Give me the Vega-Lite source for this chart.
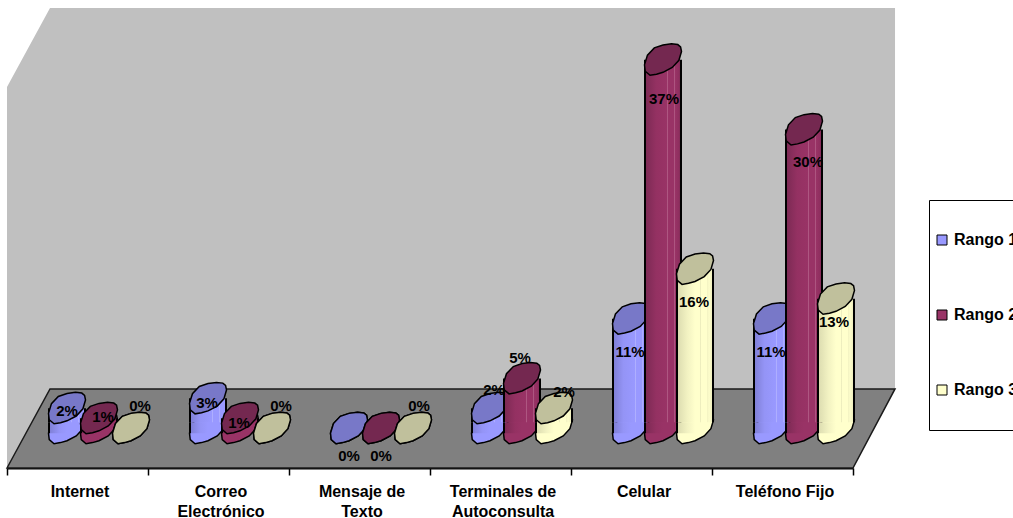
{
  "$schema": "https://vega.github.io/schema/vega-lite/v6.json",
  "width": 846,
  "height": 468,
  "autosize": {"type": "none"},
  "padding": {"left": 7, "top": 0, "right": 160, "bottom": 50},
  "background": "white",
  "config": {"view": {"stroke": null}, "font": "Liberation Sans"},
  "datasets": {
    "shares": [
      {"canal": "Internet", "rango": "Rango 1", "pct": 2},
      {"canal": "Internet", "rango": "Rango 2", "pct": 1},
      {"canal": "Internet", "rango": "Rango 3", "pct": 0},
      {"canal": "Correo Electrónico", "rango": "Rango 1", "pct": 3},
      {"canal": "Correo Electrónico", "rango": "Rango 2", "pct": 1},
      {"canal": "Correo Electrónico", "rango": "Rango 3", "pct": 0},
      {"canal": "Mensaje de Texto", "rango": "Rango 1", "pct": 0},
      {"canal": "Mensaje de Texto", "rango": "Rango 2", "pct": 0},
      {"canal": "Mensaje de Texto", "rango": "Rango 3", "pct": 0},
      {"canal": "Terminales de Autoconsulta", "rango": "Rango 1", "pct": 2},
      {"canal": "Terminales de Autoconsulta", "rango": "Rango 2", "pct": 5},
      {"canal": "Terminales de Autoconsulta", "rango": "Rango 3", "pct": 2},
      {"canal": "Celular", "rango": "Rango 1", "pct": 11},
      {"canal": "Celular", "rango": "Rango 2", "pct": 37},
      {"canal": "Celular", "rango": "Rango 3", "pct": 16},
      {"canal": "Teléfono Fijo", "rango": "Rango 1", "pct": 11},
      {"canal": "Teléfono Fijo", "rango": "Rango 2", "pct": 30},
      {"canal": "Teléfono Fijo", "rango": "Rango 3", "pct": 13}
    ],
    "wall": [
      {"along": 0, "upper": 34.27, "lower": -4},
      {"along": 0.305, "upper": 42.2, "lower": 3.94},
      {"along": 6.298, "upper": 42.2, "lower": 3.94}
    ],
    "floor": [
      {"along": 0, "upper": -4, "lower": -4},
      {"along": 0.305, "upper": 3.94, "lower": -4},
      {"along": 6, "upper": 3.94, "lower": -4},
      {"along": 6.298, "upper": 3.94, "lower": 3.94}
    ]
  },
  "resolve": {"scale": {"x": "independent"}},
  "layer": [
    {
      "data": {"name": "wall"},
      "mark": {"type": "area", "color": "#c0c0c0", "clip": false},
      "encoding": {
        "x": {"field": "along", "type": "quantitative", "axis": null, "scale": {"domain": [0, 6]}},
        "y": {"field": "upper", "type": "quantitative", "axis": null, "scale": {"domain": [-4, 43], "nice": false}, "stack": null},
        "y2": {"field": "lower"}
      }
    },
    {
      "data": {"name": "floor"},
      "mark": {"type": "area", "color": "#808080", "stroke": "#1a1a1a", "strokeWidth": 1.5, "clip": false},
      "encoding": {
        "x": {"field": "along", "type": "quantitative", "axis": null, "scale": {"domain": [0, 6]}},
        "y": {"field": "upper", "type": "quantitative", "axis": null, "scale": {"domain": [-4, 43], "nice": false}, "stack": null},
        "y2": {"field": "lower"}
      }
    },
    {
      "data": {"name": "shares"},
      "transform": [{"calculate": "datum.pct + '%'", "as": "etiqueta"}],
      "encoding": {
        "x": {
          "field": "canal",
          "type": "nominal",
          "sort": null,
          "title": null,
          "scale": {
            "domain": ["Internet", "Correo Electrónico", "Mensaje de Texto", "Terminales de Autoconsulta", "Celular", "Teléfono Fijo"],
            "paddingInner": 0,
            "paddingOuter": 0
          },
          "axis": {
            "orient": "bottom",
            "tickBand": "extent",
            "labelAngle": 0,
            "domainColor": "#000000",
            "domainWidth": 2,
            "tickColor": "#000000",
            "tickWidth": 1.5,
            "tickSize": 7,
            "labelFont": "Liberation Sans",
            "labelFontWeight": "bold",
            "labelFontSize": 16,
            "labelColor": "#000000",
            "labelPadding": 8,
            "labelOffset": 2,
            "labelLineHeight": 20,
            "labelLimit": 200,
            "labelExpr": "length(datum.label) > 14 ? [substring(datum.label, 0, lastindexof(datum.label, ' ')), substring(datum.label, lastindexof(datum.label, ' ') + 1)] : datum.label"
          }
        },
        "xOffset": {
          "field": "rango",
          "type": "nominal",
          "scale": {"domain": ["Rango 1", "Rango 2", "Rango 3"], "range": [44, 140], "paddingInner": 0, "paddingOuter": 0}
        },
        "y": {"field": "pct", "type": "quantitative", "axis": null, "stack": null, "scale": {"domain": [-4, 43], "nice": false}}
      },
      "layer": [
        {
          "transform": [{"filter": "datum.rango === 'Rango 1'"}],
          "layer": [
            {
              "mark": {"type": "point", "filled": true, "shape": "M1,-0.45L0.86,0.03L0.5,0.42L0,0.68L-0.35,0.78L-0.7,0.84L-0.96,0.62L-1,0.27L-0.84,-0.25L-0.47,-0.64L0,-0.8L0.46,-0.86L0.8,-0.82L0.95,-0.7Z", "size": 1369, "stroke": "#000000", "strokeWidth": 1.5, "opacity": 1},
              "encoding": {
                "y": {"datum": 0, "type": "quantitative"},
                "color": {
                  "field": "rango",
                  "type": "nominal",
                  "scale": {"domain": ["Rango 1", "Rango 2", "Rango 3"], "range": ["#9999ff", "#993366", "#ffffcc"]},
                  "legend": {
                    "title": null,
                    "orient": "none",
                    "legendX": 922,
                    "legendY": 200,
                    "fillColor": "#ffffff",
                    "strokeColor": "#000000",
                    "padding": 32,
                    "symbolOffset": -27,
                    "labelOffset": 4,
                    "symbolType": "square",
                    "symbolSize": 100,
                    "symbolStrokeColor": "#000000",
                    "symbolStrokeWidth": 1,
                    "rowPadding": 59,
                    "labelFont": "Liberation Sans",
                    "labelFontWeight": "bold",
                    "labelFontSize": 16,
                    "labelColor": "#000000"
                  }
                }
              }
            },
            {
              "transform": [{"filter": "datum.pct > 0"}],
              "mark": {"type": "bar", "size": 38, "color": {"gradient": "linear", "x1": 0, "x2": 1, "y1": 0, "y2": 0, "stops": [{"offset": 0, "color": "#000000"}, {"offset": 0.04, "color": "#000000"}, {"offset": 0.041, "color": "#7f7fd6"}, {"offset": 0.3, "color": "#9494f6"}, {"offset": 0.5, "color": "#9999ff"}, {"offset": 0.501, "color": "rgba(0,0,0,0)"}, {"offset": 1, "color": "rgba(0,0,0,0)"}]}},
              "encoding": {"y": {"datum": 0.6, "type": "quantitative"}, "y2": {"datum": -0.5}}
            },
            {
              "transform": [{"filter": "datum.pct > 0"}],
              "mark": {"type": "bar", "size": 38, "color": {"gradient": "linear", "x1": 0, "x2": 1, "y1": 0, "y2": 0, "stops": [{"offset": 0, "color": "#000000"}, {"offset": 0.04, "color": "#000000"}, {"offset": 0.041, "color": "#7f7fd6"}, {"offset": 0.3, "color": "#9494f6"}, {"offset": 0.6, "color": "#9999ff"}, {"offset": 0.62, "color": "#b0b0ff"}, {"offset": 0.64, "color": "#9999ff"}, {"offset": 0.78, "color": "#9999ff"}, {"offset": 0.8, "color": "#b0b0ff"}, {"offset": 0.82, "color": "#9999ff"}, {"offset": 0.959, "color": "#9999ff"}, {"offset": 0.96, "color": "#000000"}, {"offset": 1, "color": "#000000"}]}},
              "encoding": {"y2": {"datum": 0.6}}
            },
            {"mark": {"type": "point", "filled": true, "shape": "M1,-0.45L0.86,0.03L0.5,0.42L0,0.68L-0.35,0.78L-0.7,0.84L-0.96,0.62L-1,0.27L-0.84,-0.25L-0.47,-0.64L0,-0.8L0.46,-0.86L0.8,-0.82L0.95,-0.7Z", "size": 1369, "fill": "#7878c8", "stroke": "#000000", "strokeWidth": 1.5, "opacity": 1}}
          ]
        },
        {
          "transform": [{"filter": "datum.rango === 'Rango 2'"}],
          "layer": [
            {
              "mark": {"type": "point", "filled": true, "shape": "M1,-0.45L0.86,0.03L0.5,0.42L0,0.68L-0.35,0.78L-0.7,0.84L-0.96,0.62L-1,0.27L-0.84,-0.25L-0.47,-0.64L0,-0.8L0.46,-0.86L0.8,-0.82L0.95,-0.7Z", "size": 1369, "stroke": "#000000", "strokeWidth": 1.5, "opacity": 1},
              "encoding": {
                "y": {"datum": 0, "type": "quantitative"},
                "color": {"field": "rango", "type": "nominal"}
              }
            },
            {
              "transform": [{"filter": "datum.pct > 0"}],
              "mark": {"type": "bar", "size": 38, "color": {"gradient": "linear", "x1": 0, "x2": 1, "y1": 0, "y2": 0, "stops": [{"offset": 0, "color": "#000000"}, {"offset": 0.04, "color": "#000000"}, {"offset": 0.041, "color": "#7c2a54"}, {"offset": 0.32, "color": "#943162"}, {"offset": 0.5, "color": "#993366"}, {"offset": 0.501, "color": "rgba(0,0,0,0)"}, {"offset": 1, "color": "rgba(0,0,0,0)"}]}},
              "encoding": {"y": {"datum": 0.6, "type": "quantitative"}, "y2": {"datum": -0.5}}
            },
            {
              "transform": [{"filter": "datum.pct > 0"}],
              "mark": {"type": "bar", "size": 38, "color": {"gradient": "linear", "x1": 0, "x2": 1, "y1": 0, "y2": 0, "stops": [{"offset": 0, "color": "#000000"}, {"offset": 0.04, "color": "#000000"}, {"offset": 0.041, "color": "#7c2a54"}, {"offset": 0.32, "color": "#943162"}, {"offset": 0.6, "color": "#993366"}, {"offset": 0.62, "color": "#b05a84"}, {"offset": 0.64, "color": "#993366"}, {"offset": 0.78, "color": "#993366"}, {"offset": 0.8, "color": "#b05a84"}, {"offset": 0.82, "color": "#993366"}, {"offset": 0.92, "color": "#8f2f5f"}, {"offset": 0.959, "color": "#7c2a54"}, {"offset": 0.96, "color": "#000000"}, {"offset": 1, "color": "#000000"}]}},
              "encoding": {"y2": {"datum": 0.6}}
            },
            {"mark": {"type": "point", "filled": true, "shape": "M1,-0.45L0.86,0.03L0.5,0.42L0,0.68L-0.35,0.78L-0.7,0.84L-0.96,0.62L-1,0.27L-0.84,-0.25L-0.47,-0.64L0,-0.8L0.46,-0.86L0.8,-0.82L0.95,-0.7Z", "size": 1369, "fill": "#742850", "stroke": "#000000", "strokeWidth": 1.5, "opacity": 1}}
          ]
        },
        {
          "transform": [{"filter": "datum.rango === 'Rango 3'"}],
          "layer": [
            {
              "mark": {"type": "point", "filled": true, "shape": "M1,-0.45L0.86,0.03L0.5,0.42L0,0.68L-0.35,0.78L-0.7,0.84L-0.96,0.62L-1,0.27L-0.84,-0.25L-0.47,-0.64L0,-0.8L0.46,-0.86L0.8,-0.82L0.95,-0.7Z", "size": 1369, "stroke": "#000000", "strokeWidth": 1.5, "opacity": 1},
              "encoding": {
                "y": {"datum": 0, "type": "quantitative"},
                "color": {"field": "rango", "type": "nominal"}
              }
            },
            {
              "transform": [{"filter": "datum.pct > 0"}],
              "mark": {"type": "bar", "size": 38, "color": {"gradient": "linear", "x1": 0, "x2": 1, "y1": 0, "y2": 0, "stops": [{"offset": 0, "color": "#000000"}, {"offset": 0.04, "color": "#000000"}, {"offset": 0.041, "color": "#dcdcb0"}, {"offset": 0.3, "color": "#f2f2c2"}, {"offset": 0.5, "color": "#ffffcc"}, {"offset": 0.501, "color": "rgba(0,0,0,0)"}, {"offset": 1, "color": "rgba(0,0,0,0)"}]}},
              "encoding": {"y": {"datum": 0.6, "type": "quantitative"}, "y2": {"datum": -0.5}}
            },
            {
              "transform": [{"filter": "datum.pct > 0"}],
              "mark": {"type": "bar", "size": 38, "color": {"gradient": "linear", "x1": 0, "x2": 1, "y1": 0, "y2": 0, "stops": [{"offset": 0, "color": "#000000"}, {"offset": 0.04, "color": "#000000"}, {"offset": 0.041, "color": "#dcdcb0"}, {"offset": 0.3, "color": "#f2f2c2"}, {"offset": 0.5, "color": "#ffffcc"}, {"offset": 0.62, "color": "#ffffcc"}, {"offset": 0.64, "color": "#e8e8ba"}, {"offset": 0.66, "color": "#ffffcc"}, {"offset": 0.82, "color": "#ffffcc"}, {"offset": 0.84, "color": "#e8e8ba"}, {"offset": 0.86, "color": "#ffffcc"}, {"offset": 0.959, "color": "#eeeebe"}, {"offset": 0.96, "color": "#000000"}, {"offset": 1, "color": "#000000"}]}},
              "encoding": {"y2": {"datum": 0.6}}
            },
            {"mark": {"type": "point", "filled": true, "shape": "M1,-0.45L0.86,0.03L0.5,0.42L0,0.68L-0.35,0.78L-0.7,0.84L-0.96,0.62L-1,0.27L-0.84,-0.25L-0.47,-0.64L0,-0.8L0.46,-0.86L0.8,-0.82L0.95,-0.7Z", "size": 1369, "fill": "#c0c09c", "stroke": "#000000", "strokeWidth": 1.5, "opacity": 1}}
          ]
        },
        {
          "transform": [{"filter": "datum.canal === 'Internet' && datum.rango === 'Rango 1'"}],
          "mark": {"type": "text", "fontWeight": "bold", "fontSize": 15, "color": "#000000", "baseline": "middle", "dx": 0, "dy": 3},
          "encoding": {"text": {"field": "etiqueta"}}
        },
        {
          "transform": [{"filter": "datum.canal === 'Correo Electrónico' && datum.rango !== 'Rango 3'"}],
          "mark": {"type": "text", "fontWeight": "bold", "fontSize": 15, "color": "#000000", "baseline": "middle", "dx": -1, "dy": 5},
          "encoding": {"text": {"field": "etiqueta"}}
        },
        {
          "transform": [{"filter": "datum.canal === 'Internet' && datum.rango === 'Rango 2'"}],
          "mark": {"type": "text", "fontWeight": "bold", "fontSize": 15, "color": "#000000", "baseline": "middle", "dx": 4, "dy": -1},
          "encoding": {"text": {"field": "etiqueta"}}
        },
        {
          "transform": [{"filter": "(datum.canal === 'Internet' || datum.canal === 'Correo Electrónico') && datum.rango === 'Rango 3'"}],
          "mark": {"type": "text", "fontWeight": "bold", "fontSize": 15, "color": "#000000", "baseline": "middle", "dx": 9, "dy": -22},
          "encoding": {"text": {"field": "etiqueta"}}
        },
        {
          "transform": [{"filter": "datum.canal === 'Mensaje de Texto' && datum.rango === 'Rango 3'"}],
          "mark": {"type": "text", "fontWeight": "bold", "fontSize": 15, "color": "#000000", "baseline": "middle", "dx": 6, "dy": -22},
          "encoding": {"text": {"field": "etiqueta"}}
        },
        {
          "transform": [{"filter": "datum.canal === 'Mensaje de Texto' && datum.rango !== 'Rango 3'"}],
          "mark": {"type": "text", "fontWeight": "bold", "fontSize": 15, "color": "#000000", "baseline": "middle", "dx": 0, "dy": 28},
          "encoding": {"text": {"field": "etiqueta"}}
        },
        {
          "transform": [{"filter": "datum.canal === 'Terminales de Autoconsulta' && datum.rango === 'Rango 1'"}],
          "mark": {"type": "text", "fontWeight": "bold", "fontSize": 15, "color": "#000000", "baseline": "middle", "dx": 4, "dy": -18},
          "encoding": {"text": {"field": "etiqueta"}}
        },
        {
          "transform": [{"filter": "datum.canal === 'Terminales de Autoconsulta' && datum.rango === 'Rango 2'"}],
          "mark": {"type": "text", "fontWeight": "bold", "fontSize": 15, "color": "#000000", "baseline": "middle", "dx": -2, "dy": -20},
          "encoding": {"text": {"field": "etiqueta"}}
        },
        {
          "transform": [{"filter": "datum.canal === 'Terminales de Autoconsulta' && datum.rango === 'Rango 3'"}],
          "mark": {"type": "text", "fontWeight": "bold", "fontSize": 15, "color": "#000000", "baseline": "middle", "dx": 10, "dy": -16},
          "encoding": {"text": {"field": "etiqueta"}}
        },
        {
          "transform": [{"filter": "datum.pct === 11 || datum.pct === 16"}],
          "mark": {"type": "text", "fontWeight": "bold", "fontSize": 15, "color": "#000000", "baseline": "middle", "dx": -1, "dy": 33},
          "encoding": {"text": {"field": "etiqueta"}}
        },
        {
          "transform": [{"filter": "datum.pct === 37"}],
          "mark": {"type": "text", "fontWeight": "bold", "fontSize": 15, "color": "#000000", "baseline": "middle", "dx": 1, "dy": 39},
          "encoding": {"text": {"field": "etiqueta"}}
        },
        {
          "transform": [{"filter": "datum.pct === 30"}],
          "mark": {"type": "text", "fontWeight": "bold", "fontSize": 15, "color": "#000000", "baseline": "middle", "dx": 4, "dy": 33},
          "encoding": {"text": {"field": "etiqueta"}}
        },
        {
          "transform": [{"filter": "datum.pct === 13"}],
          "mark": {"type": "text", "fontWeight": "bold", "fontSize": 15, "color": "#000000", "baseline": "middle", "dx": -2, "dy": 23},
          "encoding": {"text": {"field": "etiqueta"}}
        }
      ]
    }
  ]
}
